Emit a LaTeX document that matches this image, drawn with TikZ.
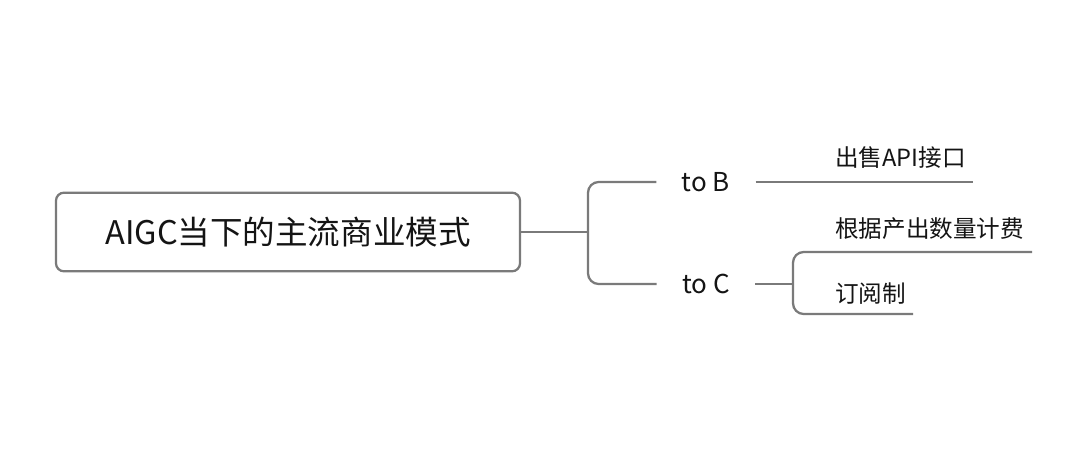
\documentclass[tikz,border=0pt]{standalone}
\usepackage{fontspec}
\setmainfont{Noto Sans CJK SC}
\usetikzlibrary{positioning}

\begin{document}
\begin{tikzpicture}[
  x={(0.75pt,0pt)},
  y={(0pt,-0.75pt)},
  rootbox/.style={draw=linegray, line width=1.7pt, rounded corners=6pt,
    minimum width=348pt, minimum height=59pt, inner sep=0pt,
    font=\fontsize{24.4}{28}\selectfont, text=textblack},
  topic/.style={inner xsep=19pt, inner ysep=0pt,
    font=\fontsize{19.5}{23}\selectfont, text=textblack},
  leaf/.style={anchor=base west, inner sep=0pt,
    font=\fontsize{17.7}{21}\selectfont, text=textblack},
  branch/.style={draw=linegray, line width=1.7pt, rounded corners=8pt}
]
  \definecolor{linegray}{RGB}{122,122,122}
  \definecolor{textblack}{RGB}{20,20,20}

  \useasboundingbox (0,0) rectangle (1080,457);

  % main topic and the two sub topics
  \node[rootbox] (root) at (288,232) {AIGC当下的主流商业模式};
  \node[topic] (tob) at (706,182) {to B};
  \node[topic] (toc) at (706,284) {to C};

  % forks and line ends
  \coordinate (fork) at (588,232);
  \coordinate (forkc) at (793,284);
  \coordinate (apiend) at (973,182);
  \coordinate (countend) at (1032,252);
  \coordinate (subend) at (913,314);

  % leaves, written above their lines
  \node[leaf] (api) at (835,166) {出售API接口};
  \node[leaf] (count) at (835,237) {根据产出数量计费};
  \node[leaf] (sub) at (835,302) {订阅制};

  % connectors
  \draw[branch] (root.east) -- (fork);
  \draw[branch] (fork) |- (tob.west);
  \draw[branch] (fork) |- (toc.west);
  \draw[branch] (tob.east) -- (apiend);
  \draw[branch] (toc.east) -- (forkc);
  \draw[branch] (forkc) |- (countend);
  \draw[branch] (forkc) |- (subend);
\end{tikzpicture}
\end{document}
